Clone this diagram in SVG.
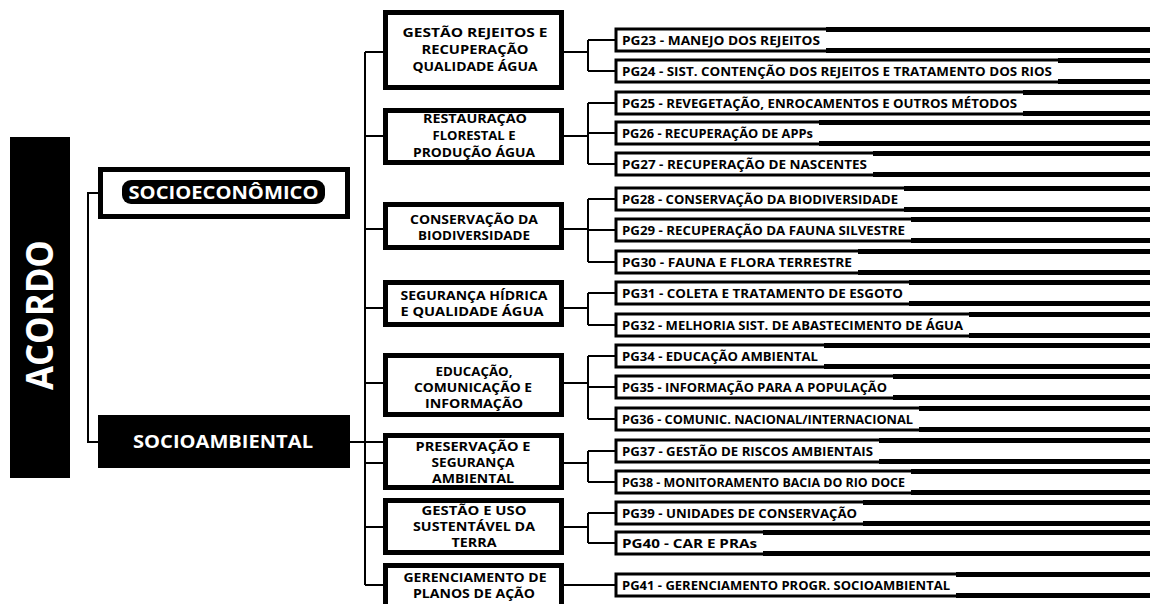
<svg xmlns="http://www.w3.org/2000/svg" width="1150" height="604" viewBox="0 0 1150 604">
<style>
.t{font-family:"Open Sans","DejaVu Sans",sans-serif;font-weight:700;}
.mid{fill:#fff;stroke:#000;stroke-width:5;}
.mt{font-size:13px;text-anchor:middle;fill:#000;}
.row{fill:#fff;stroke:#000;stroke-width:3;}
.pt{font-size:12.5px;fill:#000;}
.bar{fill:#000;}
.c{fill:none;stroke:#000;stroke-width:2;}
</style>
<rect width="1150" height="604" fill="#fff"/>
<g id="connectors">
<path class="c" d="M98,193 H88 V442 H98"/>
<path class="c" d="M350,442 H385"/>
<path class="c" d="M365,52 V585"/>
<path class="c" d="M365,52 H385 M365,136 H385 M365,229 H385 M365,308 H385 M365,383 H385 M365,463 H385 M365,527 H385 M365,585 H385"/>
<path class="c" d="M562,52 H588 M588,40 V71 M588,40 H616 M588,71 H616"/>
<path class="c" d="M562,136 H588 M588,103 V164 M588,103 H616 M588,133 H616 M588,164 H616"/>
<path class="c" d="M562,229 H588 M588,199 V262 M588,199 H616 M588,230 H616 M588,262 H616"/>
<path class="c" d="M562,308 H588 M588,293 V325 M588,293 H616 M588,325 H616"/>
<path class="c" d="M562,383 H588 M588,356 V419 M588,356 H616 M588,387 H616 M588,419 H616"/>
<path class="c" d="M562,463 H588 M588,451 V482 M588,451 H616 M588,482 H616"/>
<path class="c" d="M562,527 H588 M588,513 V543 M588,513 H616 M588,543 H616"/>
<path class="c" d="M562,585 H616"/>
</g>
<g id="acordo">
<rect x="10" y="137" width="60" height="341" fill="#000"/>
<text class="t" transform="translate(53,315) rotate(-90)" font-size="38" fill="#fff" text-anchor="middle" textLength="150" lengthAdjust="spacingAndGlyphs">ACORDO</text>
</g>
<g id="socioeconomico">
<rect x="100.5" y="169.5" width="247" height="47" fill="#fff" stroke="#000" stroke-width="5"/>
<rect x="122" y="180" width="203" height="24" rx="9" fill="#000"/>
<text class="t" x="223.5" y="198.5" font-size="18" font-weight="600" fill="#fff" text-anchor="middle" textLength="190" lengthAdjust="spacingAndGlyphs">SOCIOECONÔMICO</text>
</g>
<g id="socioambiental">
<rect x="98" y="415" width="252" height="53" fill="#000"/>
<text class="t" x="223" y="448" font-size="17" font-weight="600" fill="#fff" text-anchor="middle" textLength="180" lengthAdjust="spacingAndGlyphs">SOCIOAMBIENTAL</text>
</g>
<g id="m1"><rect class="mid" x="385.5" y="12.5" width="176" height="75"/>
<text class="t mt"><tspan x="475" y="37" textLength="145" lengthAdjust="spacingAndGlyphs">GESTÃO  REJEITOS E</tspan><tspan x="475" y="54" textLength="107" lengthAdjust="spacingAndGlyphs">RECUPERAÇÃO</tspan><tspan x="475" y="71" textLength="125" lengthAdjust="spacingAndGlyphs">QUALIDADE ÁGUA</tspan></text></g>
<g id="m2"><rect class="mid" x="385.5" y="110.5" width="176" height="52"/>
<text class="t mt"><tspan x="475" y="123" textLength="104" lengthAdjust="spacingAndGlyphs">RESTAURAÇÃO</tspan><tspan x="474" y="140" textLength="83" lengthAdjust="spacingAndGlyphs">FLORESTAL E</tspan><tspan x="474" y="157" textLength="122" lengthAdjust="spacingAndGlyphs">PRODUÇÃO ÁGUA</tspan></text></g>
<g id="m3"><rect class="mid" x="385.5" y="204.5" width="176" height="43"/>
<text class="t mt"><tspan x="474" y="224" textLength="128" lengthAdjust="spacingAndGlyphs">CONSERVAÇÃO DA</tspan><tspan x="474" y="240" textLength="112" lengthAdjust="spacingAndGlyphs">BIODIVERSIDADE</tspan></text></g>
<g id="m4"><rect class="mid" x="385.5" y="282.5" width="176" height="42"/>
<text class="t mt"><tspan x="474" y="300" textLength="147" lengthAdjust="spacingAndGlyphs">SEGURANÇA HÍDRICA</tspan><tspan x="472" y="316" textLength="143" lengthAdjust="spacingAndGlyphs">E QUALIDADE ÁGUA</tspan></text></g>
<g id="m5"><rect class="mid" x="385.5" y="355.5" width="176" height="59"/>
<text class="t mt"><tspan x="474" y="376" textLength="77" lengthAdjust="spacingAndGlyphs">EDUCAÇÃO,</tspan><tspan x="473" y="392" textLength="118" lengthAdjust="spacingAndGlyphs">COMUNICAÇÃO E</tspan><tspan x="474" y="408" textLength="98" lengthAdjust="spacingAndGlyphs">INFORMAÇÃO</tspan></text></g>
<g id="m6"><rect class="mid" x="385.5" y="435.5" width="176" height="52"/>
<text class="t mt"><tspan x="473" y="451" textLength="115" lengthAdjust="spacingAndGlyphs">PRESERVAÇÃO E</tspan><tspan x="473" y="467" textLength="83" lengthAdjust="spacingAndGlyphs">SEGURANÇA</tspan><tspan x="473" y="483" textLength="82" lengthAdjust="spacingAndGlyphs">AMBIENTAL</tspan></text></g>
<g id="m7"><rect class="mid" x="385.5" y="500.5" width="176" height="52"/>
<text class="t mt"><tspan x="474" y="515" textLength="105" lengthAdjust="spacingAndGlyphs">GESTÃO E USO</tspan><tspan x="474" y="531" textLength="122" lengthAdjust="spacingAndGlyphs">SUSTENTÁVEL DA</tspan><tspan x="474" y="547" textLength="45" lengthAdjust="spacingAndGlyphs">TERRA</tspan></text></g>
<g id="m8"><rect class="mid" x="385.5" y="565.5" width="176" height="50"/>
<text class="t mt"><tspan x="475" y="582" textLength="143" lengthAdjust="spacingAndGlyphs">GERENCIAMENTO DE</tspan><tspan x="474" y="598" textLength="122" lengthAdjust="spacingAndGlyphs">PLANOS DE AÇÃO</tspan></text></g>
<g id="pg23"><rect class="row" x="616" y="29" width="560" height="22"/><rect class="bar" x="826" y="27" width="324" height="5"/><rect class="bar" x="826" y="48" width="324" height="5"/><text class="t pt" x="622" y="44.5" textLength="198" lengthAdjust="spacingAndGlyphs">PG23 - MANEJO DOS REJEITOS</text></g>
<g id="pg24"><rect class="row" x="616" y="60" width="560" height="22"/><rect class="bar" x="1058" y="58" width="92" height="5"/><rect class="bar" x="1058" y="79" width="92" height="5"/><text class="t pt" x="622" y="75.5" textLength="430" lengthAdjust="spacingAndGlyphs">PG24 - SIST. CONTENÇÃO DOS REJEITOS E TRATAMENTO DOS RIOS</text></g>
<g id="pg25"><rect class="row" x="616" y="92" width="560" height="22"/><rect class="bar" x="1023" y="90" width="127" height="5"/><rect class="bar" x="1023" y="111" width="127" height="5"/><text class="t pt" x="622" y="107.5" textLength="395" lengthAdjust="spacingAndGlyphs">PG25 - REVEGETAÇÃO, ENROCAMENTOS E OUTROS MÉTODOS</text></g>
<g id="pg26"><rect class="row" x="616" y="122" width="560" height="22"/><rect class="bar" x="819" y="120" width="331" height="5"/><rect class="bar" x="819" y="141" width="331" height="5"/><text class="t pt" x="622" y="137.5" textLength="191" lengthAdjust="spacingAndGlyphs">PG26 - RECUPERAÇÃO DE APPs</text></g>
<g id="pg27"><rect class="row" x="616" y="153" width="560" height="22"/><rect class="bar" x="873" y="151" width="277" height="5"/><rect class="bar" x="873" y="172" width="277" height="5"/><text class="t pt" x="622" y="168.5" textLength="245" lengthAdjust="spacingAndGlyphs">PG27 - RECUPERAÇÃO DE NASCENTES</text></g>
<g id="pg28"><rect class="row" x="616" y="188" width="560" height="22"/><rect class="bar" x="904" y="186" width="246" height="5"/><rect class="bar" x="904" y="207" width="246" height="5"/><text class="t pt" x="622" y="203.5" textLength="276" lengthAdjust="spacingAndGlyphs">PG28 - CONSERVAÇÃO DA BIODIVERSIDADE</text></g>
<g id="pg29"><rect class="row" x="616" y="219" width="560" height="22"/><rect class="bar" x="911" y="217" width="239" height="5"/><rect class="bar" x="911" y="238" width="239" height="5"/><text class="t pt" x="622" y="234.5" textLength="283" lengthAdjust="spacingAndGlyphs">PG29 - RECUPERAÇÃO DA FAUNA SILVESTRE</text></g>
<g id="pg30"><rect class="row" x="616" y="251" width="560" height="22"/><rect class="bar" x="858" y="249" width="292" height="5"/><rect class="bar" x="858" y="270" width="292" height="5"/><text class="t pt" x="622" y="266.5" textLength="230" lengthAdjust="spacingAndGlyphs">PG30 - FAUNA E FLORA TERRESTRE</text></g>
<g id="pg31"><rect class="row" x="616" y="282" width="560" height="22"/><rect class="bar" x="909" y="280" width="241" height="5"/><rect class="bar" x="909" y="301" width="241" height="5"/><text class="t pt" x="622" y="297.5" textLength="281" lengthAdjust="spacingAndGlyphs">PG31 - COLETA E TRATAMENTO DE ESGOTO</text></g>
<g id="pg32"><rect class="row" x="616" y="314" width="560" height="22"/><rect class="bar" x="969" y="312" width="181" height="5"/><rect class="bar" x="969" y="333" width="181" height="5"/><text class="t pt" x="622" y="329.5" textLength="341" lengthAdjust="spacingAndGlyphs">PG32 - MELHORIA SIST. DE ABASTECIMENTO DE ÁGUA</text></g>
<g id="pg34"><rect class="row" x="616" y="345" width="560" height="22"/><rect class="bar" x="824" y="343" width="326" height="5"/><rect class="bar" x="824" y="364" width="326" height="5"/><text class="t pt" x="622" y="360.5" textLength="196" lengthAdjust="spacingAndGlyphs">PG34 - EDUCAÇÃO AMBIENTAL</text></g>
<g id="pg35"><rect class="row" x="616" y="376" width="560" height="22"/><rect class="bar" x="893" y="374" width="257" height="5"/><rect class="bar" x="893" y="395" width="257" height="5"/><text class="t pt" x="622" y="391.5" textLength="265" lengthAdjust="spacingAndGlyphs">PG35 - INFORMAÇÃO PARA A POPULAÇÃO</text></g>
<g id="pg36"><rect class="row" x="616" y="408" width="560" height="22"/><rect class="bar" x="919" y="406" width="231" height="5"/><rect class="bar" x="919" y="427" width="231" height="5"/><text class="t pt" x="622" y="423.5" textLength="291" lengthAdjust="spacingAndGlyphs">PG36 - COMUNIC. NACIONAL/INTERNACIONAL</text></g>
<g id="pg37"><rect class="row" x="616" y="440" width="560" height="22"/><rect class="bar" x="879" y="438" width="271" height="5"/><rect class="bar" x="879" y="459" width="271" height="5"/><text class="t pt" x="622" y="455.5" textLength="251" lengthAdjust="spacingAndGlyphs">PG37 - GESTÃO DE RISCOS AMBIENTAIS</text></g>
<g id="pg38"><rect class="row" x="616" y="471" width="560" height="22"/><rect class="bar" x="911" y="469" width="239" height="5"/><rect class="bar" x="911" y="490" width="239" height="5"/><text class="t pt" x="622" y="486.5" textLength="283" lengthAdjust="spacingAndGlyphs">PG38 - MONITORAMENTO BACIA DO RIO DOCE</text></g>
<g id="pg39"><rect class="row" x="616" y="502" width="560" height="22"/><rect class="bar" x="863" y="500" width="287" height="5"/><rect class="bar" x="863" y="521" width="287" height="5"/><text class="t pt" x="622" y="517.5" textLength="235" lengthAdjust="spacingAndGlyphs">PG39 - UNIDADES DE CONSERVAÇÃO</text></g>
<g id="pg40"><rect class="row" x="616" y="532" width="560" height="22"/><rect class="bar" x="763" y="530" width="387" height="5"/><rect class="bar" x="763" y="551" width="387" height="5"/><text class="t pt" x="622" y="547.5" textLength="135" lengthAdjust="spacingAndGlyphs">PG40 - CAR E PRAs</text></g>
<g id="pg41"><rect class="row" x="616" y="574" width="560" height="22"/><rect class="bar" x="956" y="572" width="194" height="5"/><rect class="bar" x="956" y="593" width="194" height="5"/><text class="t pt" x="622" y="589.5" textLength="328" lengthAdjust="spacingAndGlyphs">PG41 - GERENCIAMENTO PROGR. SOCIOAMBIENTAL</text></g>
</svg>
